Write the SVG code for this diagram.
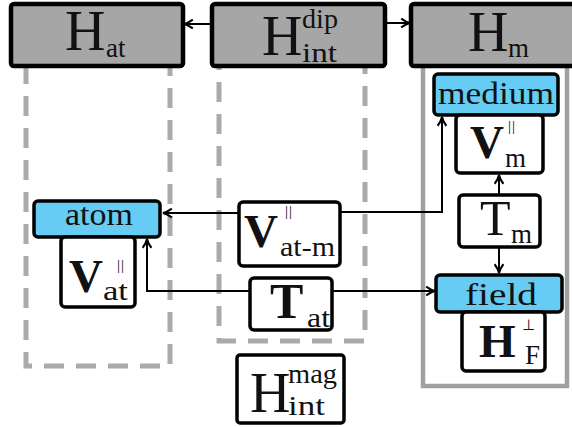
<svg xmlns="http://www.w3.org/2000/svg" width="572" height="427" viewBox="0 0 572 427">
<defs>
<style>
.bg{fill:#ffffff}
.dash{fill:none;stroke:#aaaaaa;stroke-width:5;stroke-dasharray:20 12}
.frame{fill:none;stroke:#a0a0a0;stroke-width:4.5}
.hbox{fill:#a6a6a6;stroke:#000;stroke-width:4.5}
.blue{fill:#66ccf3;stroke:#000;stroke-width:3.5}
.wbox{fill:#fff;stroke:#000;stroke-width:3.5}
.conn{fill:none;stroke:#000;stroke-width:2}
.big{font-size:56px}
.bv{font-size:47px;font-weight:bold}
.bt{font-size:50px}
.sub{font-size:27px}
.lbl{font-size:32px}
.par{font-size:15px}
</style>
<marker id="ah" viewBox="0 0 10 10" refX="9.5" refY="5" markerWidth="11" markerHeight="11" markerUnits="userSpaceOnUse" orient="auto">
<path d="M1.5,1 Q6,4.3 9.5,5 Q6,5.7 1.5,9" fill="none" stroke="#000" stroke-width="1.9"/>
</marker>
</defs>
<rect class="bg" x="0" y="0" width="572" height="427"/>

<g id="frames">
<rect class="dash" x="26" y="40" width="144" height="326"/>
<rect class="dash" x="219" y="40" width="146" height="301"/>
<rect class="frame" x="423" y="40" width="144" height="346"/>
</g>

<g id="connectors">
<line class="conn" x1="212" y1="24" x2="184" y2="24" marker-end="url(#ah)"/>
<line class="conn" x1="385" y1="23" x2="410" y2="23" marker-end="url(#ah)"/>
<line class="conn" x1="239" y1="213" x2="163" y2="213" marker-end="url(#ah)"/>
<polyline class="conn" points="340,212 442,212 442,117" marker-end="url(#ah)"/>
<polyline class="conn" points="250,291 147,291 147,239" marker-end="url(#ah)"/>
<line class="conn" x1="332" y1="291" x2="435" y2="291" marker-end="url(#ah)"/>
<line class="conn" x1="499" y1="195" x2="499" y2="175" marker-end="url(#ah)"/>
<line class="conn" x1="499" y1="247" x2="499" y2="273" marker-end="url(#ah)"/>
</g>

<g fill="#111" font-family="Liberation Serif, Times New Roman, serif">
<g id="H_at">
<rect class="hbox" x="11" y="4" width="172" height="62" rx="3"/>
<text class="big" x="65" y="50">H</text>
<text class="sub" x="106" y="57">at</text>
</g>

<g id="H_int_dip">
<rect class="hbox" x="212" y="4" width="173" height="62" rx="3"/>
<text class="big" x="262" y="55">H</text>
<text class="sub" x="302" y="28" textLength="36" lengthAdjust="spacingAndGlyphs">dip</text>
<text class="sub" x="302" y="62" textLength="35" lengthAdjust="spacingAndGlyphs">int</text>
</g>

<g id="H_m">
<rect class="hbox" x="411" y="4" width="170" height="62" rx="3"/>
<text class="big" x="468" y="51">H</text>
<text class="sub" x="508" y="57">m</text>
</g>

<g id="medium">
<rect class="blue" x="434" y="74" width="124" height="41" rx="4"/>
<text class="lbl" x="438" y="104" textLength="116" lengthAdjust="spacingAndGlyphs">medium</text>
</g>

<g id="V_m">
<rect class="wbox" x="456" y="115" width="87" height="58" rx="4"/>
<text class="bv" x="470" y="158">V</text>
<text class="par" x="508" y="131" letter-spacing="1">||</text>
<text class="sub" x="505" y="167">m</text>
</g>

<g id="T_m">
<rect class="wbox" x="459" y="195" width="81" height="52" rx="4"/>
<text class="bt" x="480" y="235">T</text>
<text class="sub" x="511" y="243">m</text>
</g>

<g id="field">
<rect class="blue" x="436" y="275" width="126" height="37" rx="4"/>
<text class="lbl" x="465" y="305" textLength="72" lengthAdjust="spacingAndGlyphs">field</text>
</g>

<g id="H_F">
<rect class="wbox" x="462" y="312" width="83" height="59" rx="4"/>
<text class="bv" x="479" y="357">H</text>
<text x="522" y="330" font-family="DejaVu Sans, sans-serif" font-size="15">⊥</text>
<text class="sub" x="525" y="364" font-size="25">F</text>
</g>

<g id="atom">
<rect class="blue" x="34" y="201" width="126" height="36" rx="4"/>
<text class="lbl" x="65" y="225" textLength="68" lengthAdjust="spacingAndGlyphs">atom</text>
</g>

<g id="V_at">
<rect class="wbox" x="61" y="237" width="74" height="70" rx="4"/>
<text class="bv" x="69" y="292">V</text>
<text class="par" x="117" y="270" letter-spacing="1">||</text>
<text class="sub" x="103" y="300" textLength="25" lengthAdjust="spacingAndGlyphs">at</text>
</g>

<g id="V_at_m">
<rect class="wbox" x="239" y="202" width="101" height="64" rx="4"/>
<text class="bv" x="244" y="247">V</text>
<text class="par" x="285" y="216" letter-spacing="1">||</text>
<text class="sub" x="280" y="256" textLength="55" lengthAdjust="spacingAndGlyphs">at-m</text>
</g>

<g id="T_at">
<rect class="wbox" x="250" y="278" width="82" height="52" rx="4"/>
<text class="bt" x="270" y="318" font-weight="bold">T</text>
<text class="sub" x="307" y="327" textLength="23" lengthAdjust="spacingAndGlyphs">at</text>
</g>

<g id="H_int_mag">
<rect class="wbox" x="237" y="355" width="107" height="68" rx="3" stroke-width="4"/>
<text class="big" x="250" y="412">H</text>
<text class="sub" x="288" y="383" textLength="49" lengthAdjust="spacingAndGlyphs">mag</text>
<text class="sub" x="288" y="415" textLength="37" lengthAdjust="spacingAndGlyphs">int</text>
</g>
</g>
</svg>
